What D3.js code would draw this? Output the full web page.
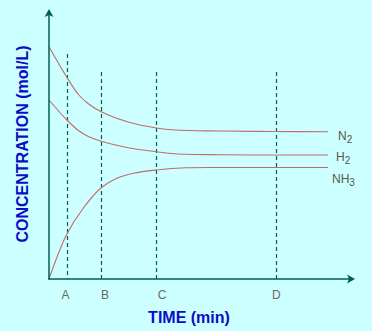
<!DOCTYPE html>
<html>
<head>
<meta charset="utf-8">
<script src="https://cdn.jsdelivr.net/npm/d3@7"></script>
<style>
  html, body { margin: 0; padding: 0; background: #ccffff; }
  svg { display: block; }
</style>
</head>
<body>
<svg id="chart" width="372" height="331"></svg>
<script>
// Reaction N2 + 3H2 ⇌ 2NH3 approaching equilibrium (arbitrary units)
const times   = [0, 5.8, 9.8, 13.1, 17.4, 26.4, 35.8, 42, 57, 75, 93];
const n2      = [92.9, 81.0, 73.8, 70.1, 66.9, 62.8, 60.4, 59.6, 59.2, 59.0, 58.9];
const h2      = [71.6, 63.8, 59.4, 57.0, 55.1, 52.5, 50.9, 50.1, 49.7, 49.6, 49.6];

const nh3Times = [0, 5.8, 11.4, 17.4, 22.6, 28.1, 35.8, 45.7, 60, 75, 93];
const nh3      = [0, 17.6, 28.3, 36.5, 40.3, 42.3, 43.6, 44.5, 44.6, 44.6, 44.6];

// Marked instants on the time axis
const markNames  = ["A", "B", "C", "D"];
const markTimes  = [5.9, 17.4, 35.8, 75.8];
const markTops   = [90, 82.8, 82.8, 82.8];
const labelTimes = [5.5, 18.7, 37.7, 75.8];

const speciesNames = [["N", "2"], ["H", "2"], ["NH", "3"]];

const svg = d3.select("#chart");
const x = d3.scaleLinear().domain([0, 100]).range([49, 349]);
const y = d3.scaleLinear().domain([0, 100]).range([279, 29]);

const axisColor = "#00604f";
const curveColor = "#c46a66";

// dashed guides
svg.append("g").selectAll("line").data(markTimes).join("line")
  .attr("x1", d => Math.round(x(d)) + 0.5).attr("x2", d => Math.round(x(d)) + 0.5)
  .attr("y1", (d, i) => y(markTops[i])).attr("y2", y(0))
  .attr("stroke", axisColor).attr("stroke-width", 1.2)
  .attr("stroke-dasharray", "4,3");

// mark labels
svg.append("g").selectAll("text").data(markNames).join("text")
  .attr("x", (d, i) => x(labelTimes[i])).attr("y", 299)
  .attr("text-anchor", "middle")
  .attr("font-family", "Liberation Sans, Arial, sans-serif")
  .attr("font-size", 12).attr("fill", "#6a6a58")
  .text(d => d);

// curves
const line = d3.line().x(d => x(d[0])).y(d => y(d[1])).curve(d3.curveCatmullRom.alpha(0.5));
const series = [
  times.map((t, i) => [t, n2[i]]),
  times.map((t, i) => [t, h2[i]]),
  nh3Times.map((t, i) => [t, nh3[i]])
];
svg.append("g").selectAll("path").data(series).join("path")
  .attr("d", line).attr("fill", "none")
  .attr("stroke", curveColor).attr("stroke-width", 1.1);

// species labels
const labelOffsets = [{dx: 10, dy: 8}, {dx: 8, dy: 6}, {dx: 4, dy: 15}];
const lbl = svg.append("g").selectAll("text").data(series).join("text")
  .attr("x", (d, i) => x(d[d.length - 1][0]) + labelOffsets[i].dx)
  .attr("y", (d, i) => y(d[d.length - 1][1]) + labelOffsets[i].dy)
  .attr("font-family", "Liberation Sans, Arial, sans-serif")
  .attr("font-size", 12).attr("fill", "#57574a");
lbl.append("tspan").text((d, i) => speciesNames[i][0]);
lbl.append("tspan").attr("font-size", 10).attr("dy", 3).text((d, i) => speciesNames[i][1]);

// axes with arrowheads
const ax = svg.append("g");
ax.append("line").attr("x1", x(0)).attr("x2", x(0)).attr("y1", y(0) + 0.5).attr("y2", 14)
  .attr("stroke", axisColor).attr("stroke-width", 1.5);
ax.append("line").attr("x1", x(0) - 0.75).attr("x2", 350).attr("y1", y(0)).attr("y2", y(0))
  .attr("stroke", axisColor).attr("stroke-width", 1.5);
ax.append("path")
  .attr("d", `M${x(0)},9 L${x(0) + 4.5},17 L${x(0)},15 L${x(0) - 4.5},17 Z`)
  .attr("fill", axisColor);
ax.append("path")
  .attr("d", `M355,${y(0)} L347,${y(0) - 4.5} L349,${y(0)} L347,${y(0) + 4.5} Z`)
  .attr("fill", axisColor);

// axis titles
svg.append("text")
  .attr("transform", `translate(28,144) rotate(-90)`)
  .attr("text-anchor", "middle")
  .attr("font-family", "Liberation Sans, Arial, sans-serif")
  .attr("font-size", 16).attr("font-weight", "bold").attr("fill", "#0c0cc4")
  .text("CONCENTRATION (mol/L)");
svg.append("text")
  .attr("x", 189).attr("y", 323)
  .attr("text-anchor", "middle")
  .attr("font-family", "Liberation Sans, Arial, sans-serif")
  .attr("font-size", 16).attr("font-weight", "bold").attr("fill", "#0c0cc4")
  .text("TIME (min)");
</script>
</body>
</html>
